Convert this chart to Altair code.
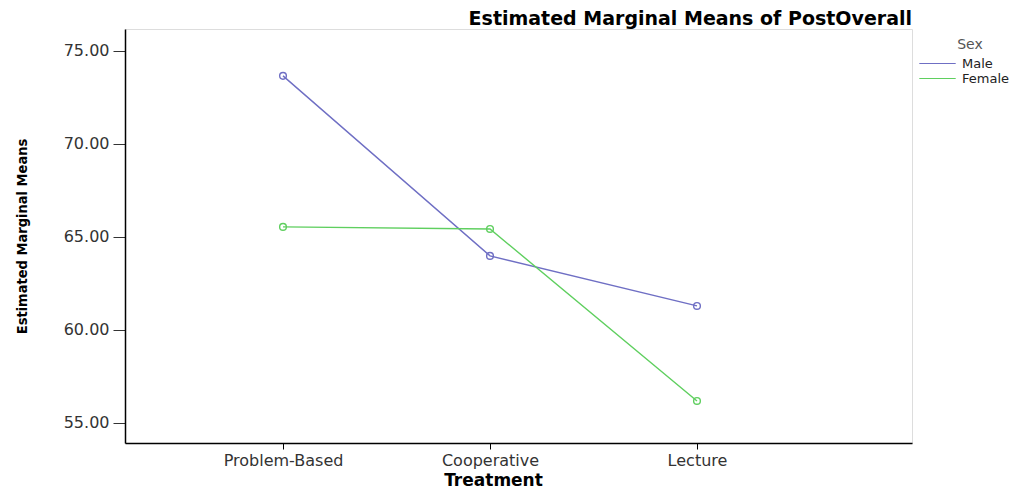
import altair as alt
import pandas as pd

treatments = ["Problem-Based", "Cooperative", "Lecture"]
male_means = [73.66, 63.98, 61.29]
female_means = [65.54, 65.43, 56.18]
sexes = ["Male", "Female"]
colors = ["#6f6fc4", "#5fcf5f"]
y_ticks = [55, 60, 65, 70, 75]

rows = []
for t, m, f in zip(treatments, male_means, female_means):
    rows.append({"Treatment": t, "Sex": "Male", "Mean": m})
    rows.append({"Treatment": t, "Sex": "Female", "Mean": f})
df = pd.DataFrame(rows)

x_enc = alt.X(
    "Treatment:N",
    sort=treatments,
    scale=alt.Scale(domain=treatments, padding=0.901, align=0.4236),
    axis=alt.Axis(
        title="Treatment",
        labelAngle=0,
        labelFont="DejaVu Sans",
        labelFontSize=16,
        labelColor="#333333",
        labelPadding=3,
        tickSize=6,
        tickColor="#000000",
        domainColor="#000000",
        domainWidth=1.5,
        titleFont="DejaVu Sans",
        titleFontSize=17,
        titleFontWeight="bold",
        titleColor="#000000",
        titleX=368,
        titleY=37,
        titleAlign="center",
        titleBaseline="middle",
    ),
)
y_enc = alt.Y(
    "Mean:Q",
    scale=alt.Scale(domain=[53.92, 76.18], nice=False, zero=False),
    axis=alt.Axis(
        title="Estimated Marginal Means",
        values=y_ticks,
        format=".2f",
        grid=False,
        labelFont="DejaVu Sans",
        labelFontSize=16,
        labelColor="#333333",
        labelPadding=4,
        tickSize=12,
        tickColor="#333333",
        domainColor="#000000",
        domainWidth=1.5,
        titleFont="DejaVu Sans Condensed",
        titleFontSize=14.5,
        titleFontWeight="bold",
        titleColor="#000000",
        titleX=-103,
        titleY=207,
        titleAngle=-90,
        titleAlign="center",
        titleBaseline="middle",
    ),
)
color_enc = alt.Color(
    "Sex:N",
    sort=sexes,
    scale=alt.Scale(domain=sexes, range=colors),
    legend=alt.Legend(
        title="Sex",
        orient="none",
        legendX=805,
        legendY=9,
        symbolType="M-2.8,0H2.8",
        symbolSize=169,
        symbolStrokeWidth=1.2,
        symbolFillColor="transparent",
        labelFont="DejaVu Sans",
        labelFontSize=13,
        labelColor="#222222",
        labelOffset=17,
        rowPadding=0,
        titleFont="DejaVu Sans",
        titleFontSize=14,
        titleFontWeight="normal",
        titleColor="#555555",
        titleAnchor="middle",
        titlePadding=4,
        padding=0,
    ),
)

base = alt.Chart(df).encode(x=x_enc, y=y_enc, color=color_enc)
lines = base.mark_line(strokeWidth=1.4)
points = base.mark_point(filled=False, size=45, strokeWidth=1.4, opacity=1)

chart = (
    alt.layer(lines, points)
    .properties(
        width=787,
        height=414,
        autosize=alt.AutoSizeParams(type="none"),
        padding={"left": 117, "top": 21, "right": 105, "bottom": 50},
        title=alt.Title(
            "Estimated Marginal Means of PostOverall",
            anchor="end",
            frame="group",
            font="DejaVu Sans",
            fontSize=19,
            fontWeight="bold",
            color="#000000",
            offset=0,
        ),
    )
    .configure_view(fill="#f0f0f0", stroke="#888888", strokeWidth=1)
    .configure(background="white")
)

chart.save("out.html", embed_options={"renderer": "svg", "actions": False})
